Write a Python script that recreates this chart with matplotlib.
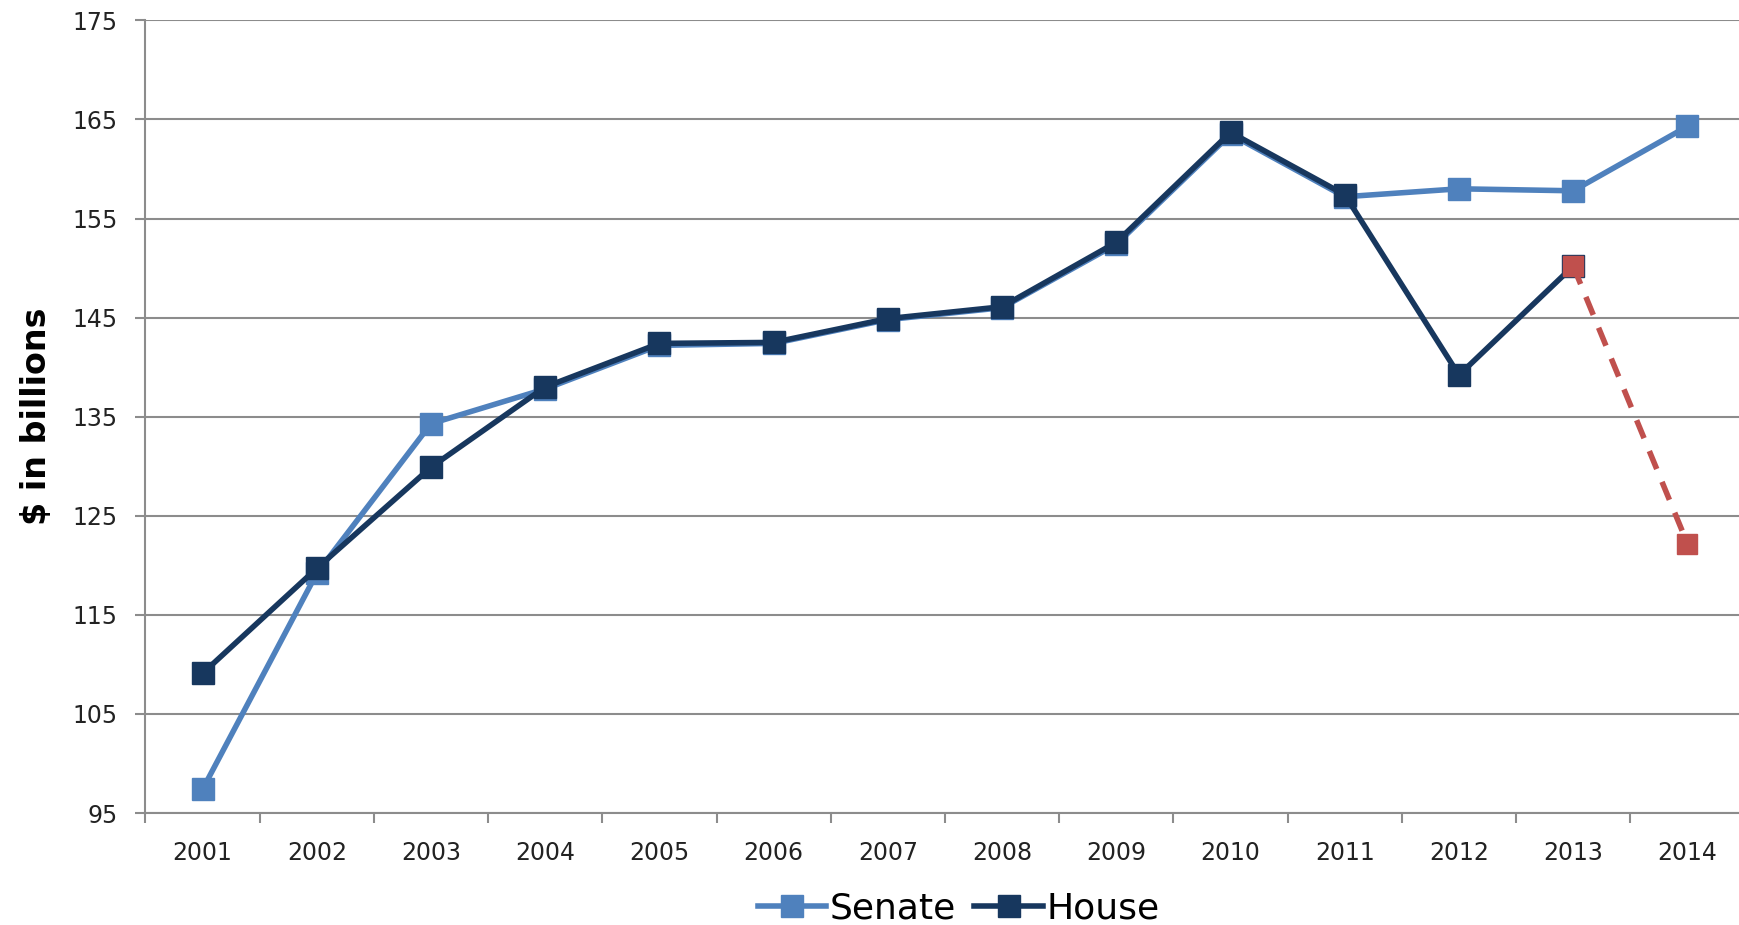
import matplotlib
matplotlib.use('Agg')
from matplotlib import pyplot as plt
from matplotlib.ticker import FixedLocator

years = ['2001', '2002', '2003', '2004', '2005', '2006', '2007',
         '2008', '2009', '2010', '2011', '2012', '2013', '2014']
senate = [97.4, 119.2, 134.3, 137.8, 142.2, 142.4, 144.8,
          146.0, 152.4, 163.5, 157.2, 158.0, 157.8, 164.3]
house = [109.1, 119.7, 129.9, 138.0, 142.4, 142.5, 144.9,
         146.1, 152.6, 163.7, 157.4, 139.2, 150.2]
proj_years = ['2013', '2014']
proj = [150.2, 122.2]
yticks = [95, 105, 115, 125, 135, 145, 155, 165, 175]

c_sen = '#4F81BD'
c_house = '#17375E'
c_red = '#C0504D'
grid_c = '#8C8C8C'

fig = plt.figure(figsize=(17.4, 9.25), dpi=100)
ax = fig.add_axes([0.0836, 0.121, 0.919, 0.857])

x = list(range(len(years)))
ax.plot(x, senate, color=c_sen, lw=4, marker='s', ms=16, label='Senate', zorder=3)
ax.plot(x[:len(house)], house, color=c_house, lw=4, marker='s', ms=16, label='House', zorder=4)
px = [years.index(y) for y in proj_years]
ax.plot(px, proj, color=c_red, lw=4, ls=(0, (3.5, 2.5)), marker='s', ms=14, zorder=5)

ax.set_xlim(-0.5, len(years) - 0.5)
ax.set_ylim(95, 175)
ax.set_yticks(yticks)
ax.set_yticklabels([str(v) for v in yticks], fontsize=17, color='#222222')
ax.set_xticks(x)
ax.set_xticklabels(years, fontsize=17, color='#222222')
ax.xaxis.set_minor_locator(FixedLocator([i - 0.5 for i in range(len(years) + 1)]))
ax.tick_params(axis='x', which='major', length=0, pad=20)
ax.tick_params(axis='x', which='minor', length=7, width=1.5, color=grid_c)
ax.tick_params(axis='y', length=7, width=1.5, color=grid_c, pad=13)

ax.grid(axis='y', color=grid_c, lw=1.5)
for s in ['top', 'right']:
    ax.spines[s].set_visible(False)
for s in ['left', 'bottom']:
    ax.spines[s].set_color(grid_c)
    ax.spines[s].set_linewidth(1.5)
ax.set_axisbelow(True)

ax.set_ylabel('$ in billions', fontsize=24, fontweight='bold', labelpad=14)

fig.legend(loc='center', bbox_to_anchor=(0.551, 0.018), ncol=2, frameon=False,
           prop={'size': 26}, handlelength=1.9, handletextpad=0.1, columnspacing=0.5)

fig.savefig('out.png', dpi=100)
